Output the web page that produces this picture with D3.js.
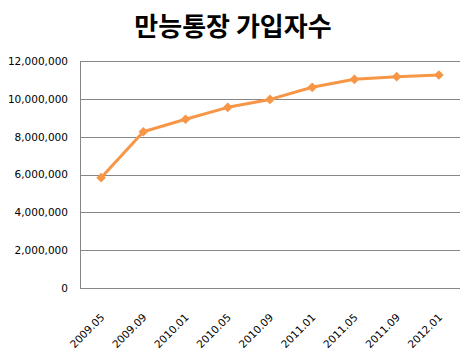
<!DOCTYPE html>
<html>
<head>
<meta charset="utf-8">
<script src="https://cdn.jsdelivr.net/npm/d3@7"></script>
<style>
  body { margin: 0; background: #fff; }
  text { font-family: "DejaVu Sans", sans-serif; }
</style>
</head>
<body>
<div id="chart"></div>
<script>
  // data
  let months = ["2009.05", "2009.09", "2010.01", "2010.05", "2010.09", "2011.01", "2011.05", "2011.09", "2012.01"];
  let members = [5830000, 8260000, 8920000, 9550000, 9970000, 10610000, 11030000, 11170000, 11260000];
  let yTicks = [0, 2000000, 4000000, 6000000, 8000000, 10000000, 12000000];

  let svgWidth = 469;
  let svgHeight = 353;
  let margin = { top: 61, right: 9, bottom: 65, left: 80 };
  let bodyWidth = svgWidth - margin.left - margin.right;
  let bodyHeight = svgHeight - margin.top - margin.bottom;

  let svg = d3.select("#chart")
              .append("svg")
              .attr("width", svgWidth)
              .attr("height", svgHeight);

  svg.append("text")
     .attr("x", 233)
     .attr("y", 36)
     .attr("text-anchor", "middle")
     .style("font-family", "'Noto Sans CJK KR', sans-serif")
     .style("font-size", "26px")
     .style("font-weight", "bold")
     .text("만능통장 가입자수");

  let chartGroup = svg.append("g")
                      .attr("transform", `translate(${margin.left},${margin.top})`);

  let xScale = d3.scaleBand()
                 .domain(months)
                 .range([0, bodyWidth]);

  let yScale = d3.scaleLinear()
                 .domain([0, 12000000])
                 .range([bodyHeight, 0]);

  // gridlines
  chartGroup.append("g")
            .selectAll("line")
            .data(yTicks)
            .enter()
              .append("line")
              .attr("x1", 0)
              .attr("x2", bodyWidth)
              .attr("y1", d => Math.round(yScale(d)) + 0.5)
              .attr("y2", d => Math.round(yScale(d)) + 0.5)
              .attr("stroke", "#868686")
              .attr("stroke-width", 1);

  // left axis
  let leftAxis = d3.axisLeft(yScale)
                   .tickValues(yTicks)
                   .tickSize(0)
                   .tickPadding(12)
                   .tickFormat(d3.format(","));

  let yAxisG = chartGroup.append("g").call(leftAxis);
  yAxisG.select(".domain").attr("stroke", "#868686").attr("d", `M0.5,0V${bodyHeight}`);
  yAxisG.selectAll("text")
        .style("font-size", "10.5px")
        .attr("fill", "#000");

  // bottom axis
  let bottomAxis = d3.axisBottom(xScale)
                     .tickSize(0)
                     .tickPadding(0);

  let xAxisG = chartGroup.append("g")
                         .attr("transform", `translate(0,${bodyHeight})`)
                         .call(bottomAxis);
  xAxisG.select(".domain").remove();
  xAxisG.selectAll("text")
        .style("font-size", "10.5px")
        .attr("fill", "#000")
        .attr("text-anchor", "end")
        .attr("dy", 0)
        .attr("y", 0)
        .attr("transform", "translate(4,30) rotate(-45)");

  // line
  let line = d3.line()
               .x((d, i) => xScale(months[i]) + xScale.bandwidth() / 2)
               .y(d => yScale(d));

  chartGroup.append("path")
            .datum(members)
            .attr("d", line)
            .attr("fill", "none")
            .attr("stroke", "#F79646")
            .attr("stroke-width", 3)
            .attr("stroke-linejoin", "round");

  chartGroup.append("g")
            .selectAll("path")
            .data(members)
            .enter()
              .append("path")
              .attr("d", d3.symbol().type(d3.symbolDiamond2).size(60))
              .attr("transform", (d, i) => `translate(${xScale(months[i]) + xScale.bandwidth() / 2},${yScale(d)})`)
              .attr("fill", "#F79646");
</script>
</body>
</html>
